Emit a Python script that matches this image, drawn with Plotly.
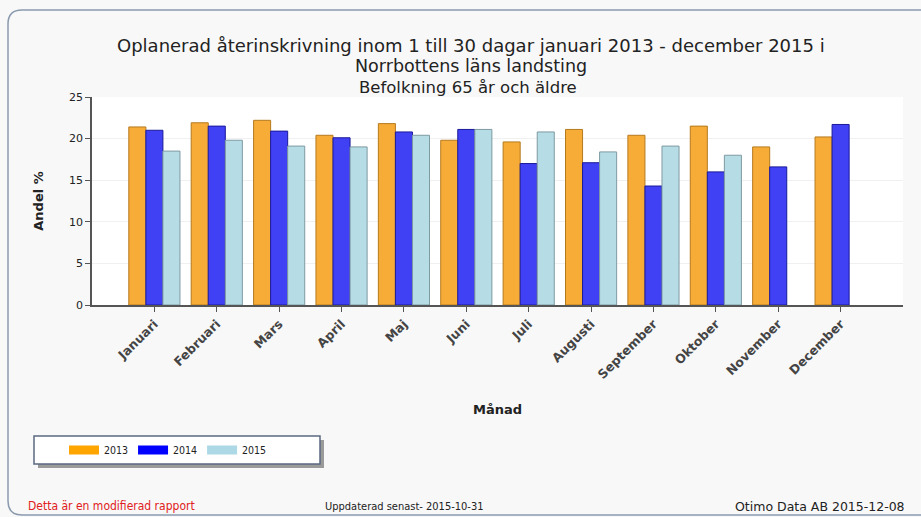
import plotly.graph_objects as go

months = ["Januari", "Februari", "Mars", "April", "Maj", "Juni", "Juli",
          "Augusti", "September", "Oktober", "November", "December"]
v2013 = [21.4, 21.9, 22.2, 20.4, 21.8, 19.8, 19.6, 21.1, 20.4, 21.5, 19.0, 20.2]
v2014 = [21.0, 21.5, 20.9, 20.1, 20.8, 21.1, 17.0, 17.1, 14.3, 16.0, 16.6, 21.7]
v2015 = [18.5, 19.8, 19.1, 19.0, 20.4, 21.1, 20.8, 18.4, 19.1, 18.0, None, None]
years = ["2013", "2014", "2015"]
colors = ["#F8AC38", "#4040F5", "#B6DCE6"]
edges = ["#B57A1E", "#1A1A9A", "#7E9AA2"]
legend_colors = ["#FFA500", "#0000FF", "#ADD8E6"]
yticks = [0, 5, 10, 15, 20, 25]

W, H = 921, 517
L, R, T, B = 92, 18, 97, 212
PW, PH = W - L - R, H - T - B


def px(x):
    return (x - L) / PW


def py(y):
    return (H - B - y) / PH


fig = go.Figure()
for name, vals, c, e in zip(years, [v2013, v2014, v2015], colors, edges):
    fig.add_trace(go.Bar(x=months, y=vals, name=name, showlegend=False,
                         marker=dict(color=c, line=dict(color=e, width=1)),
                         hoverinfo="skip"))
# legend entries (wide rectangular swatches)
for name, c in zip(years, legend_colors):
    fig.add_trace(go.Scatter(x=[None], y=[None], mode="lines", name=name,
                             line=dict(color=c, width=9), hoverinfo="skip"))

font = "DejaVu Sans"

# outer rounded border
x0, y0, x1, y1, r = 8, 10, 930, 515, 14
path = (f"M {px(x0)},{py(y0 + r)} Q {px(x0)},{py(y0)} {px(x0 + r)},{py(y0)} "
        f"L {px(x1)},{py(y0)} L {px(x1)},{py(y1)} L {px(x0 + r)},{py(y1)} "
        f"Q {px(x0)},{py(y1)} {px(x0)},{py(y1 - r)} Z")
shapes = [
    dict(type="path", xref="paper", yref="paper", path=path,
         line=dict(color="#8a9aae", width=1.5), fillcolor="rgba(0,0,0,0)", layer="below"),
    # legend shadow and box
    dict(type="rect", xref="paper", yref="paper",
         x0=px(38), x1=px(324), y0=py(440), y1=py(468),
         line=dict(width=0), fillcolor="#9a9a9a", layer="below"),
    dict(type="rect", xref="paper", yref="paper",
         x0=px(34), x1=px(320), y0=py(436), y1=py(464),
         line=dict(color="#5a6a80", width=1.5), fillcolor="white", layer="below"),
]

annotations = [
    dict(text="Oplanerad återinskrivning inom 1 till 30 dagar januari 2013 - december 2015 i",
         x=px(471), y=py(45), font=dict(size=18, color="#222", family=font)),
    dict(text="Norrbottens läns landsting", x=px(471), y=py(66),
         font=dict(size=17.5, color="#222", family=font)),
    dict(text="Befolkning 65 år och äldre", x=px(468), y=py(88),
         font=dict(size=16.5, color="#222", family=font)),
    dict(text="<b>Månad</b>", x=px(497), y=py(409),
         font=dict(size=13, color="#222", family=font)),
    dict(text="Detta är en modifierad rapport", x=px(26), y=py(506), xanchor="left",
         font=dict(size=12, color="#e02020", family="DejaVu Sans Condensed")),
    dict(text="Uppdaterad senast- 2015-10-31", x=px(323), y=py(506), xanchor="left",
         font=dict(size=11, color="#222", family="DejaVu Sans Condensed")),
    dict(text="Otimo Data AB 2015-12-08", x=px(907), y=py(506), xanchor="right",
         font=dict(size=12.5, color="#222", family="DejaVu Sans")),
]
for a in annotations:
    a.update(xref="paper", yref="paper", showarrow=False)
    a.setdefault("xanchor", "center")
    a["yanchor"] = "middle"

fig.update_layout(
    width=W, height=H,
    margin=dict(l=L, r=R, t=T, b=B),
    paper_bgcolor="#f8f8f8",
    plot_bgcolor="white",
    barmode="group",
    bargap=0.18,
    bargroupgap=0.0,
    showlegend=True,
    legend=dict(orientation="h", x=px(64), y=py(450), xanchor="left", yanchor="middle",
                bgcolor="rgba(0,0,0,0)", borderwidth=0,
                font=dict(size=10.5, family="DejaVu Sans Condensed", color="#222"),
                itemwidth=30, traceorder="normal"),
    shapes=shapes,
    annotations=annotations,
    xaxis=dict(type="category", range=[-1, 12], showline=True, linecolor="#555",
               linewidth=1.5, ticks="outside", ticklen=5, tickcolor="#555",
               tickangle=-45,
               tickfont=dict(size=12.5, family="DejaVu Sans", color="#444", weight="bold"),
               showgrid=False),
    yaxis=dict(range=[0, 25], tickvals=yticks, showline=True, linecolor="#555",
               linewidth=1.5, ticks="outside", ticklen=5, tickcolor="#555",
               tickfont=dict(size=11, family=font, color="#222"),
               showgrid=True, gridcolor="#f0f0f0", zeroline=False,
               title=dict(text="<b>Andel %</b>", font=dict(size=13, family=font, color="#222"),
                          standoff=22)),
)

fig.write_html("out.html")
